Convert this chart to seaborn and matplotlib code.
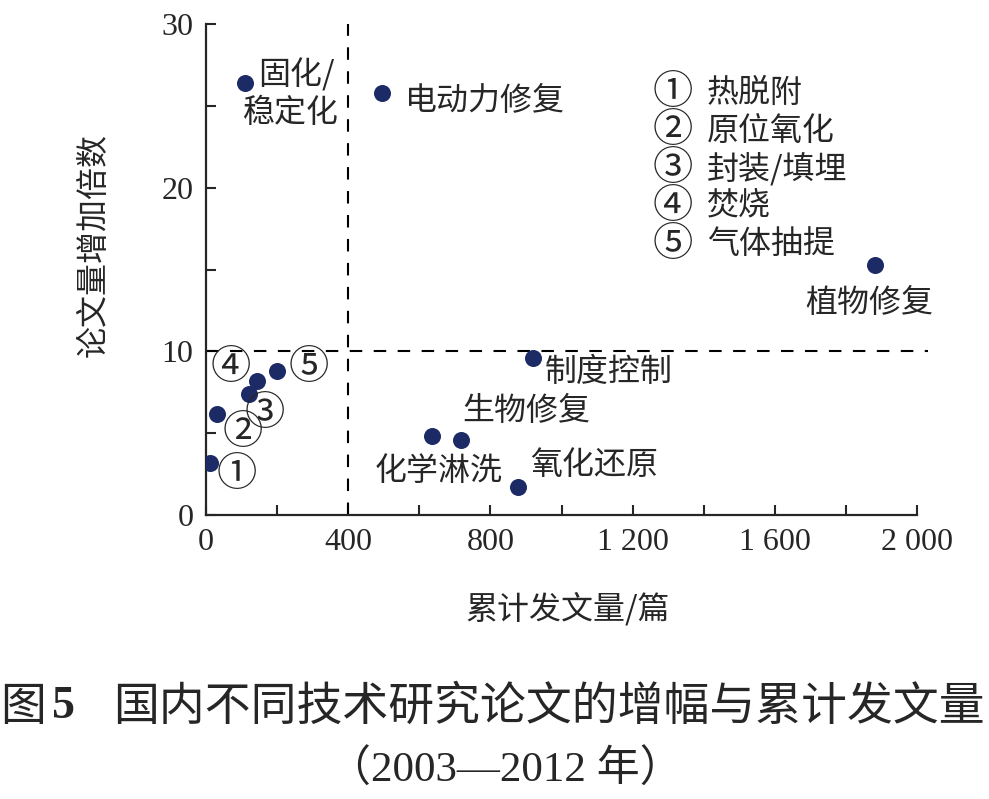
import matplotlib
matplotlib.use("Agg")
import matplotlib.pyplot as plt
import seaborn as sns
import pandas as pd
from matplotlib.ticker import MultipleLocator, FixedLocator, FixedFormatter

# ---- data ----
techs = ["固化/稳定化", "电动力修复", "植物修复", "制度控制", "化学淋洗", "生物修复",
         "氧化还原", "热脱附", "原位氧化", "封装/填埋", "焚烧", "气体抽提"]
papers = [110, 495, 1882, 920, 636, 717, 878, 11, 31, 121, 143, 200]
growth = [26.4, 25.8, 15.3, 9.6, 4.8, 4.6, 1.7, 3.2, 6.2, 7.4, 8.2, 8.8]
xticks = [0, 400, 800, 1200, 1600, 2000]
xtick_labels = ["0", "400", "800", "1 200", "1 600", "2 000"]
yticks = [0, 10, 20, 30]
ytick_labels = ["0", "10", "20", "30"]
circled = ["①", "②", "③", "④", "⑤"]
legend_names = ["热脱附", "原位氧化", "封装/填埋", "焚烧", "气体抽提"]
x_split = 400
y_split = 10

df = pd.DataFrame({"tech": techs, "papers": papers, "growth": growth})

sns.set_style("ticks")
plt.rcParams["font.family"] = ["Liberation Serif", "Noto Sans CJK SC", "DejaVu Sans"]
CJK = ["Noto Sans CJK SC", "DejaVu Sans"]

fig = plt.figure(figsize=(9.89, 7.99), dpi=100)
ax = fig.add_axes([0.2083, 0.3554, 0.7189, 0.6146])

navy = "#1c2a66"
sns.scatterplot(data=df, x="papers", y="growth", ax=ax, s=150, color=navy,
                edgecolor=navy, linewidth=0, zorder=5, legend=False)

ax.set_xlim(0, 2000)
ax.set_ylim(0, 30)

# dashed split lines
ax.plot([x_split, x_split], [0, 30], color="black", lw=1.5, ls=(0, (6, 5.5)), clip_on=False)
ax.plot([0, 2030], [y_split, y_split], color="black", lw=1.5, ls=(0, (6, 5.5)), clip_on=False)

sns.despine(ax=ax)
for s in ["left", "bottom"]:
    ax.spines[s].set_linewidth(1.6)

ax.xaxis.set_major_locator(FixedLocator(xticks))
ax.xaxis.set_major_formatter(FixedFormatter(xtick_labels))
ax.xaxis.set_minor_locator(MultipleLocator(200))
ax.yaxis.set_major_locator(FixedLocator(yticks))
ax.yaxis.set_major_formatter(FixedFormatter(ytick_labels))
ax.yaxis.set_minor_locator(MultipleLocator(5))
ax.tick_params(which="both", direction="in", length=7, width=1.5, labelsize=23, pad=9)
for lab in ax.get_xticklabels() + ax.get_yticklabels():
    lab.set_family("Liberation Serif")

ax.set_xlabel("累计发文量/篇", fontsize=23, family=CJK)
ax.set_ylabel("论文量增加倍数", fontsize=23, family=CJK)
ax.xaxis.set_label_coords(0.508, -0.157)
ax.yaxis.set_label_coords(-0.135, 0.55)

fs = 23
csize = 29
def lab(i, text, dx, dy, ha="left", va="center", size=fs):
    ax.annotate(text, (papers[i], growth[i]), xytext=(dx, dy), textcoords="offset pixels",
                ha=ha, va=va, fontsize=size, family=CJK, zorder=6)

lab(0, "固化/", 13, 8)
lab(0, "稳定化", -2, -30)
lab(1, "电动力修复", 23, -8)
lab(2, "植物修复", -6, -38, ha="center")
lab(3, "制度控制", 12, -14)
lab(4, "化学淋洗", 71, -35, ha="right")
lab(5, "生物修复", 1, 29)
lab(6, "氧化还原", 12, 22)
circ_off = [(27, -12), (26, -19), (16, -20), (-26, 13), (32, 3)]
for k, (dx, dy) in enumerate(circ_off):
    lab(7 + k, circled[k], dx, dy, ha="center", size=csize)

# legend block
for k in range(5):
    y_ax = (515 - (93 + k * 37.8)) / 491
    ax.text((673 - 206) / 711, y_ax, circled[k], transform=ax.transAxes, ha="center",
            va="center", fontsize=csize, family=CJK)
    ax.text((707 - 206) / 711, y_ax, legend_names[k], transform=ax.transAxes, ha="left",
            va="center", fontsize=fs, family=CJK)

# caption
fig.text(0.0, 1 - 707 / 799, "图", fontsize=33, family=CJK, ha="left", va="center")
fig.text(52 / 989, 1 - 707 / 799, "5", fontsize=33, family="Liberation Serif",
         weight="bold", ha="left", va="center")
fig.text(985 / 989, 1 - 707 / 799, "国内不同技术研究论文的增幅与累计发文量", fontsize=33,
         family=CJK, ha="right", va="center")
fig.text(505 / 989, 1 - 770 / 799, "（2003—2012 年）", fontsize=31,
         family=["Liberation Serif", "Noto Sans CJK SC"], ha="center", va="center")

fig.savefig("out.png", dpi=100)
